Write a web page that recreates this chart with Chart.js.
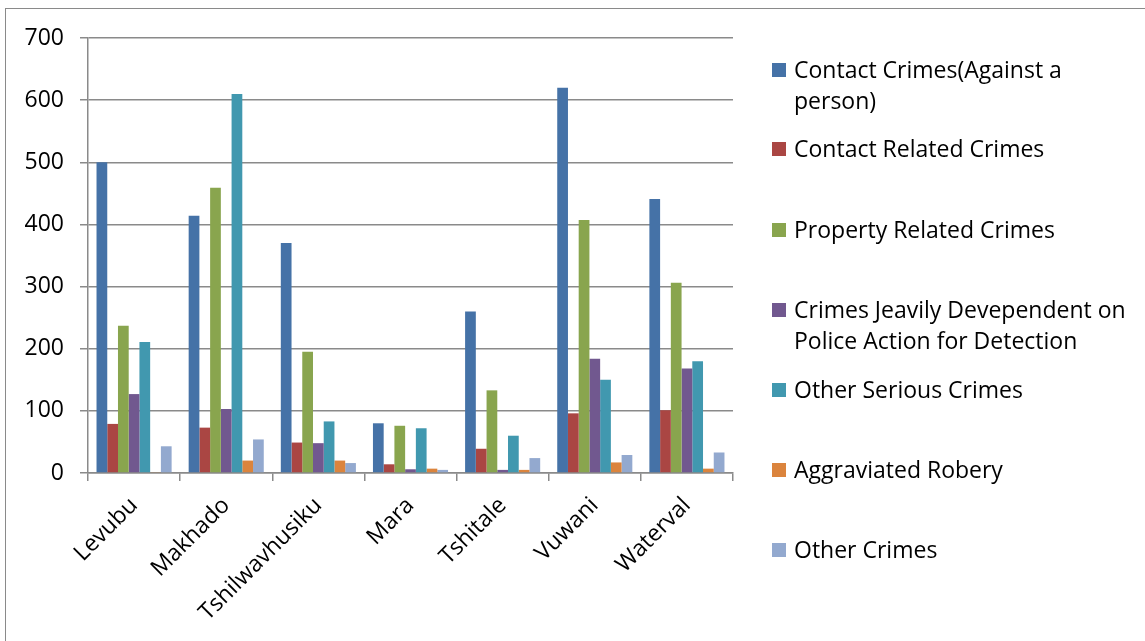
<!DOCTYPE html>
<html>
<head>
<meta charset="utf-8" />
<script src="https://cdn.jsdelivr.net/npm/chart.js@4"></script>
<style>
  body { margin: 0; background: #fff; }
  #frame { position: absolute; left: 5px; top: 8px; width: 1160px; height: 660px; border: 1.5px solid #8a8a8a; box-sizing: border-box; }
  #wrap { position: absolute; left: 0; top: 0; width: 1145px; height: 641px; }
  #legend { position: absolute; left: 772px; top: 0; font-family: "Open Sans", sans-serif; font-size: 23px; color: #000; }
  .item { position: absolute; left: 0; width: 380px; line-height: 31px; padding-left: 22px; white-space: nowrap; }
  .box { position: absolute; left: 0; top: 9px; width: 14px; height: 14px; }
</style>
</head>
<body>
<div id="frame"></div>
<div id="wrap"><canvas id="chart" width="1145" height="641"></canvas></div>
<div id="legend"></div>
<script>
"use strict";

const stations = ["Levubu", "Makhado", "Tshilwavhusiku", "Mara", "Tshitale", "Vuwani", "Waterval"];
const yTicks = [0, 100, 200, 300, 400, 500, 600, 700];

const contactCrimes = [500, 414, 370, 80, 260, 620, 441];
const contactRelated = [79, 73, 49, 14, 39, 96, 101];
const propertyRelated = [237, 459, 195, 76, 133, 407, 306];
const policeAction = [127, 103, 48, 6, 5, 184, 168];
const otherSerious = [211, 610, 83, 72, 60, 150, 180];
const aggravatedRobbery = [1, 20, 20, 7, 5, 17, 7];
const otherCrimes = [43, 54, 16, 5, 24, 29, 33];

const series = [
  { label: ["Contact Crimes(Against a", "person)"], data: contactCrimes, color: "#4572A7", top: 54 },
  { label: ["Contact Related Crimes"], data: contactRelated, color: "#AA4643", top: 133 },
  { label: ["Property Related Crimes"], data: propertyRelated, color: "#89A54E", top: 214 },
  { label: ["Crimes Jeavily Devependent on", "Police Action for Detection"], data: policeAction, color: "#71588F", top: 294 },
  { label: ["Other Serious Crimes"], data: otherSerious, color: "#4198AF", top: 374 },
  { label: ["Aggraviated Robery"], data: aggravatedRobbery, color: "#DB843D", top: 454 },
  { label: ["Other Crimes"], data: otherCrimes, color: "#93A9CF", top: 534 }
];

const legend = document.getElementById("legend");
series.forEach(s => {
  const div = document.createElement("div");
  div.className = "item";
  div.style.top = s.top + "px";
  div.innerHTML = '<span class="box" style="background:' + s.color + '"></span>' + s.label.join("<br>");
  legend.appendChild(div);
});

const FONT = { family: "'Open Sans', sans-serif", size: 23 };

new Chart(document.getElementById("chart").getContext("2d"), {
  type: "bar",
  data: {
    labels: stations,
    datasets: series.map(s => ({
      label: s.label.join(" "),
      data: s.data,
      backgroundColor: s.color,
      borderWidth: 0
    }))
  },
  options: {
    responsive: false,
    animation: false,
    categoryPercentage: 0.815,
    barPercentage: 1,
    layout: { padding: { left: 4, top: 38, right: 412, bottom: 0 } },
    plugins: { legend: { display: false }, tooltip: { enabled: false } },
    scales: {
      x: {
        grid: { display: true, drawOnChartArea: false, offset: true, color: "#8a8a8a", lineWidth: 1.5, tickLength: 8 },
        border: { color: "#8a8a8a", width: 1.5 },
        ticks: { font: FONT, color: "#000", minRotation: 45, maxRotation: 45, padding: 11 },
        afterFit: scale => { scale.height = 168; }
      },
      y: {
        min: 0,
        max: 700,
        afterBuildTicks: scale => { scale.ticks = yTicks.map(v => ({ value: v })); },
        grid: { color: "#8a8a8a", lineWidth: 1.5, tickLength: 8 },
        border: { color: "#8a8a8a", width: 1.5 },
        ticks: { font: FONT, color: "#000", padding: 16 },
        afterFit: scale => { scale.width = 84; }
      }
    }
  }
});
</script>
</body>
</html>
